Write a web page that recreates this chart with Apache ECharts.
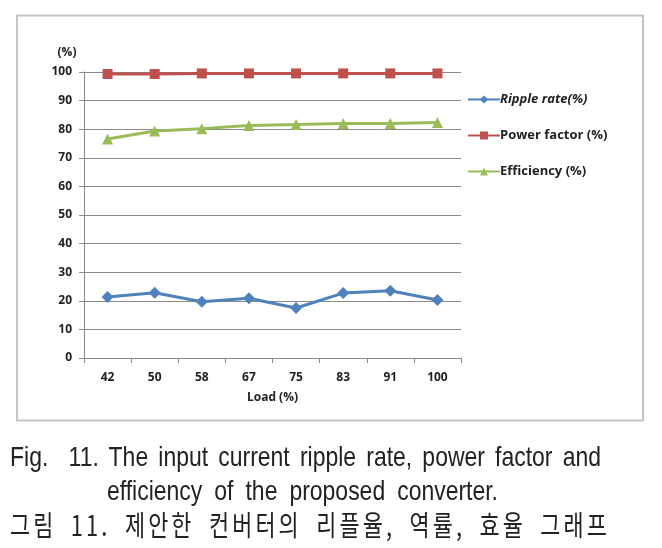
<!DOCTYPE html>
<html>
<head>
<meta charset="utf-8">
<script src="https://cdn.jsdelivr.net/npm/echarts@6/dist/echarts.min.js"></script>
<style>
  html, body { margin: 0; padding: 0; background: #fff; }
  #wrap { position: relative; width: 662px; height: 548px; }
  #chart { width: 662px; height: 548px; }
  .cap {
    position: absolute;
    white-space: pre-wrap;
    text-align: justify;
    text-align-last: justify;
    transform-origin: 0 0;
    color: #222;
  }
  .en { font-family: "Liberation Sans", Arial, sans-serif; font-size: 28px; line-height: 28px; }
  .ko { font-family: "Noto Sans CJK KR", sans-serif; font-size: 28px; line-height: 28px; letter-spacing: 4px; }
</style>
</head>
<body>
<div id="wrap">
  <div id="chart"></div>
  <div id="cap1" class="cap en"></div>
  <div id="cap2" class="cap en"></div>
  <div id="cap3" class="cap ko"></div>
</div>
<script>
const loads = ['42', '50', '58', '67', '75', '83', '91', '100']
const rippleRate = [21.3, 22.8, 19.7, 20.9, 17.5, 22.7, 23.5, 20.3]
const powerFactor = [99.3, 99.3, 99.5, 99.5, 99.5, 99.5, 99.5, 99.5]
const efficiency = [76.6, 79.4, 80.2, 81.3, 81.6, 82.0, 82.0, 82.3]

const captionLines = [
  'Fig.  11. The input current ripple rate, power factor and',
  'efficiency of the proposed converter.',
  '그림 11. 제안한 컨버터의 리플율, 역률, 효율 그래프'
]

// caption boxes: left, top, visible width, horizontal squeeze
function placeCaption(id, text, left, top, width, sx) {
  const el = document.getElementById(id)
  el.textContent = text
  el.style.left = left + 'px'
  el.style.top = top + 'px'
  el.style.width = (width / sx) + 'px'
  el.style.transform = 'scaleX(' + sx + ')'
}
placeCaption('cap1', captionLines[0], 10, 443, 591, 0.82)
placeCaption('cap2', captionLines[1], 107, 477, 391, 0.82)
placeCaption('cap3', captionLines[2], 10, 510, 600, 0.78)

const chart = echarts.init(document.getElementById('chart'))

const labelFont = { fontFamily: 'Open Sans', fontWeight: 'bold', fontSize: 12, color: '#222' }

chart.setOption({
  animation: false,
  backgroundColor: '#fff',
  grid: { left: 84, right: 201, top: 72, bottom: 190 },
  legend: {
    orient: 'vertical',
    left: 462,
    top: 88,
    itemWidth: 32,
    itemHeight: 10,
    itemGap: 23,
    textStyle: {
      fontFamily: 'Open Sans', fontWeight: 'bold', fontSize: 13, color: '#222', padding: [0, 0, 0, -5],
      rich: { it: { fontFamily: 'Open Sans', fontWeight: 'bold', fontStyle: 'italic', fontSize: 13, color: '#222' } }
    },
    formatter: name => name === 'Ripple rate(%)' ? '{it|' + name + '}' : name
  },
  xAxis: {
    type: 'category',
    data: loads,
    boundaryGap: true,
    name: 'Load (%)',
    nameLocation: 'middle',
    nameGap: 34,
    nameTextStyle: { ...labelFont, fontSize: 12 },
    axisLine: { lineStyle: { color: '#888', width: 1 } },
    axisTick: { show: true, length: 5, lineStyle: { color: '#888' } },
    axisLabel: { ...labelFont, margin: 14 }
  },
  yAxis: {
    type: 'value',
    min: 0,
    max: 100,
    interval: 10,
    name: '(%)',
    nameGap: 13,
    nameTextStyle: { ...labelFont, padding: [0, 34, 0, 0] },
    axisLine: { show: true, lineStyle: { color: '#888', width: 1 } },
    axisTick: { show: true, length: 5, lineStyle: { color: '#888' } },
    axisLabel: { ...labelFont, margin: 12 },
    splitLine: { lineStyle: { color: '#8a8a8a', width: 1 } }
  },
  series: [
    {
      name: 'Ripple rate(%)',
      type: 'line',
      data: rippleRate,
      symbol: 'diamond',
      symbolSize: 12,
      lineStyle: { color: '#4F81BD', width: 3 },
      itemStyle: { color: '#4F81BD' }
    },
    {
      name: 'Power factor (%)',
      type: 'line',
      data: powerFactor,
      symbol: 'rect',
      symbolSize: 10,
      lineStyle: { color: '#C0504D', width: 3 },
      itemStyle: { color: '#C0504D' }
    },
    {
      name: 'Efficiency (%)',
      type: 'line',
      data: efficiency,
      symbol: 'triangle',
      symbolSize: 11,
      lineStyle: { color: '#9BBB59', width: 3 },
      itemStyle: { color: '#9BBB59' }
    }
  ],
  graphic: [
    {
      type: 'rect',
      shape: { x: 17, y: 15.5, width: 626, height: 405 },
      style: { fill: 'none', stroke: '#c4c4c4', lineWidth: 2 },
      silent: true
    }
  ]
})
</script>
</body>
</html>
